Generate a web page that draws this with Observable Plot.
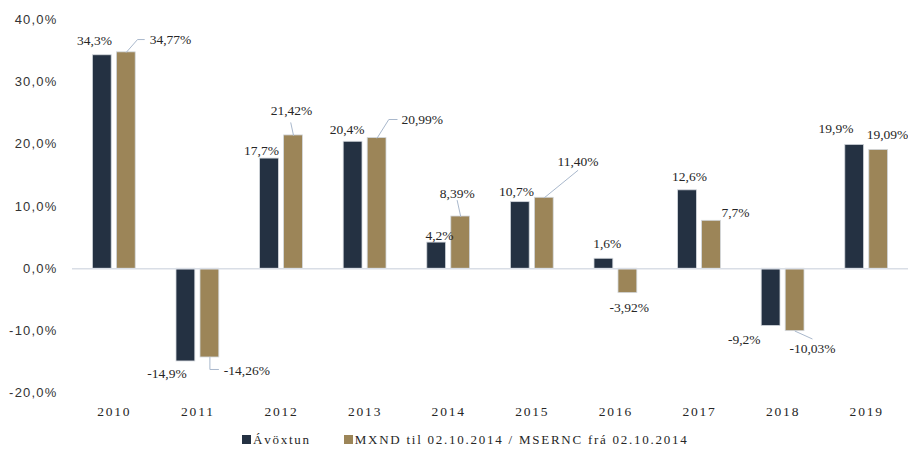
<!DOCTYPE html>
<html>
<head>
<meta charset="utf-8">
<script src="https://cdn.jsdelivr.net/npm/d3@7"></script>
<script src="https://cdn.jsdelivr.net/npm/@observablehq/plot@0.6"></script>
<style>
  html, body { margin: 0; padding: 0; background: #ffffff; }
  #chart g[aria-label="y-axis tick label"] { letter-spacing: 1.2px; }
  #chart g[aria-label="x-axis tick label"] { letter-spacing: 1.8px; }
  #legend {
    height: 19px; line-height: 24px; padding-left: 242px;
    font-family: "Liberation Serif", serif; font-size: 13px; letter-spacing: 1.75px;
    color: #262626; white-space: nowrap; display: flex; align-items: center;
  }
  #legend .sw { display: inline-block; width: 9px; height: 9px; margin-right: 2px; }
  #legend .item { display: flex; align-items: center; margin-right: 33px; }
</style>
</head>
<body>
<div id="chart"></div>
<div id="legend"></div>
<script>
// ---- data ----
const years = [2010, 2011, 2012, 2013, 2014, 2015, 2016, 2017, 2018, 2019];
const seriesNames = ["Ávöxtun", "MXND til 02.10.2014 / MSERNC frá 02.10.2014"];
const avoxtun = [34.3, -14.9, 17.7, 20.4, 4.2, 10.7, 1.6, 12.6, -9.2, 19.9];
const vidmid = [34.77, -14.26, 21.42, 20.99, 8.39, 11.40, -3.92, 7.7, -10.03, 19.09];
const avoxtunLabels = ["34,3%", "-14,9%", "17,7%", "20,4%", "4,2%", "10,7%", "1,6%", "12,6%", "-9,2%", "19,9%"];
const vidmidLabels = ["34,77%", "-14,26%", "21,42%", "20,99%", "8,39%", "11,40%", "-3,92%", "7,7%", "-10,03%", "19,09%"];
const yTicks = [-20, -10, 0, 10, 20, 30, 40];
const colors = ["#243142", "#9c8558"];

// ---- layout (pixels) ----
const W = 908, H = 430, ML = 72, MR = 0, MT = 19.3, MB = 37.3;
const stepPx = (W - ML - MR) / years.length;          // px per year
const yPxPerUnit = (H - MT - MB) / 60;                 // px per percent point
const xu = px => px / stepPx;
const yu = px => -px / yPxPerUnit;
const barOffset = xu(12), barHalf = xu(9.4);

// label nudges relative to bar end, in px [dx, dy]
const nudgeA = [[-7.8,-14.8],[-18.9,12.1],[-8,-8.4],[-6,-11.9],[2.8,-7.1],[-3.8,-10.9],[3.3,-14.9],[2,-13.8],[-26.8,13.8],[-18.7,-16.1]];
const nudgeB = [[44.2,-12.8],[37,13],[-2,-24.9],[45.1,-18.6],[-3.5,-22.7],[33.7,-36.3],[1.3,14.1],[24,-8],[17.4,17.7],[8.8,-15.1]];
// leader lines for second series (px relative to bar end)
const leadersB = {
  0: [[0,0],[11.2,-12.8],[18,-12.8]],
  1: [[0,0],[0,12],[8.6,12]],
  2: [[0,0],[-2.7,-12.6]],
  3: [[0,0],[11.7,-18.6],[20,-18.6]],
  4: [[0,0],[-3.5,-16]],
  5: [[0,0],[33.5,-27.3]],
  8: [[0,0],[17,7.7]]
};

// ---- build tables ----
const bars = [];
const labels = [];
years.forEach((yr, i) => {
  const xa = yr - barOffset, xb = yr + barOffset;
  bars.push({x1: xa - barHalf, x2: xa + barHalf, v: avoxtun[i], s: 0});
  bars.push({x1: xb - barHalf, x2: xb + barHalf, v: vidmid[i], s: 1});
  labels.push({x: xa + xu(nudgeA[i][0]), y: avoxtun[i] + yu(nudgeA[i][1]), t: avoxtunLabels[i]});
  labels.push({x: xb + xu(nudgeB[i][0]), y: vidmid[i] + yu(nudgeB[i][1]), t: vidmidLabels[i]});
});
const leaderPts = [];
Object.entries(leadersB).forEach(([k, pts]) => {
  const i = +k;
  const xb = years[i] + barOffset;
  pts.forEach(([dx, dy]) => leaderPts.push({id: i, x: xb + xu(dx), y: vidmid[i] + yu(dy)}));
});

const chart = Plot.plot({
  width: W, height: H,
  marginLeft: ML, marginRight: MR, marginTop: MT, marginBottom: MB,
  style: {background: "#ffffff", overflow: "visible"},
  x: {type: "linear", domain: [years[0] - 0.5, years[years.length - 1] + 0.5]},
  y: {domain: [-20, 40]},
  marks: [
    Plot.rect(bars, {x1: "x1", x2: "x2", y1: 0, y2: "v", fill: d => colors[d.s], stroke: "#d3d7dd", strokeWidth: 0.8}),
    Plot.ruleY([0], {stroke: "#d9dee6", strokeWidth: 1.7}),
    Plot.line(leaderPts, {x: "x", y: "y", z: "id", stroke: "#a9b8cc", strokeWidth: 1}),
    Plot.text(labels, {x: "x", y: "y", text: "t", fontFamily: "Liberation Serif", fontSize: 13.5, fill: "#262626"}),
    Plot.axisY({ticks: yTicks, tickFormat: d => d.toFixed(1).replace(".", ",") + "%", tickSize: 0, tickPadding: 15,
      fontFamily: "Liberation Sans", fontSize: 13, fill: "#333333", label: null}),
    Plot.axisX({ticks: years, tickFormat: d => String(d), tickSize: 0, tickPadding: 13,
      fontFamily: "Liberation Serif", fontSize: 13.5, fill: "#262626", label: null})
  ]
});
document.getElementById("chart").appendChild(chart);

const legend = document.getElementById("legend");
seriesNames.forEach((name, i) => {
  const item = document.createElement("span");
  item.className = "item";
  const sw = document.createElement("span");
  sw.className = "sw";
  sw.style.background = colors[i];
  item.appendChild(sw);
  item.appendChild(document.createTextNode(name));
  legend.appendChild(item);
});
</script>
</body>
</html>
